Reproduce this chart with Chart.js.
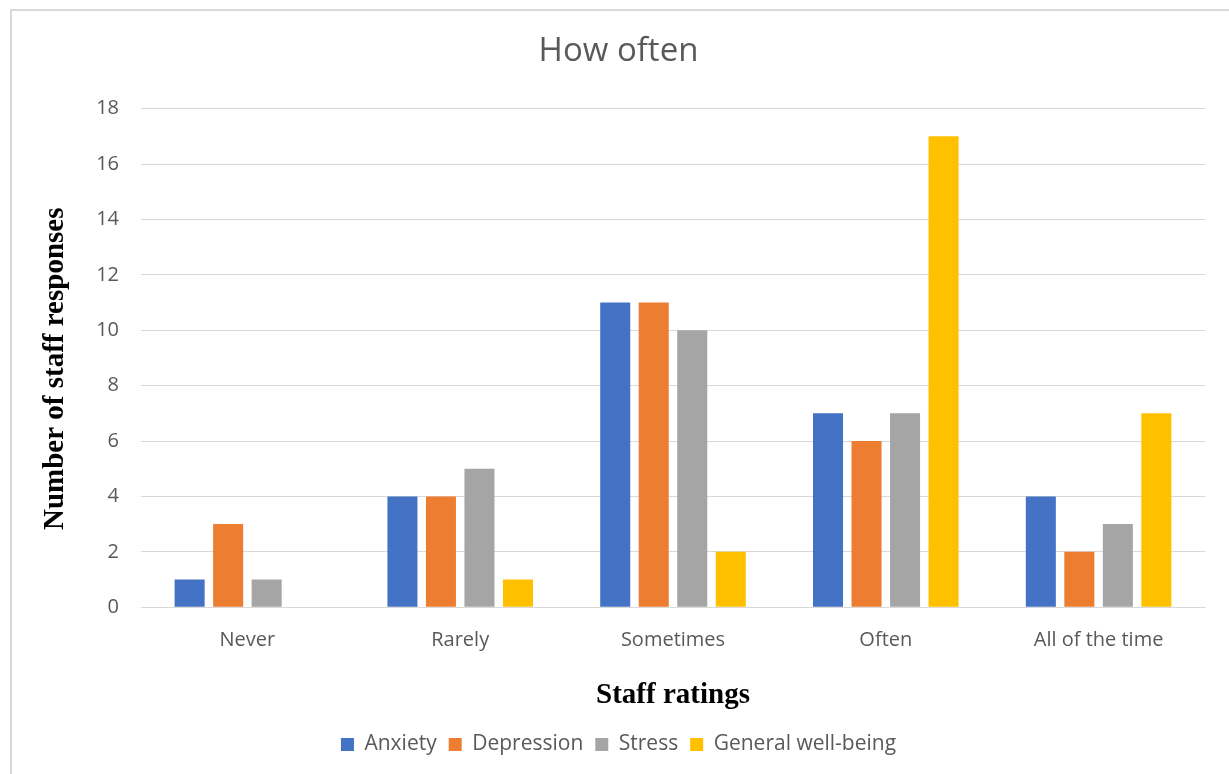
<!DOCTYPE html>
<html>
<head>
<meta charset="utf-8">
<title>How often</title>
<script src="https://cdn.jsdelivr.net/npm/chart.js"></script>
<style>
  html, body { margin: 0; padding: 0; background: #fff; }
  #frame { position: absolute; left: 10px; top: 9px; width: 1219px; height: 765px; border: 2px solid #d9d9d9; border-right: none; border-bottom: none; box-sizing: border-box; }
  #chart { display: block; }
</style>
</head>
<body>
<div id="frame">
  <canvas id="chart" width="1217" height="763"></canvas>
</div>
<script>
// chart data
const categories = ['Never', 'Rarely', 'Sometimes', 'Often', 'All of the time'];
const anxiety = [1, 4, 11, 7, 4];
const depression = [3, 4, 11, 6, 2];
const stress = [1, 5, 10, 7, 3];
const wellBeing = [0, 1, 2, 17, 7];
const yTicks = [0, 2, 4, 6, 8, 10, 12, 14, 16, 18];

const grey = '#595959';
const sans = "'Open Sans', 'Noto Sans', sans-serif";
const serif = "'Liberation Serif', 'DejaVu Serif', serif";

function series(label, data, color) {
  return {
    label: label,
    data: data,
    backgroundColor: color,
    borderWidth: 0,
    categoryPercentage: 0.724,
    barPercentage: 0.78
  };
}

const ctx = document.getElementById('chart').getContext('2d');
const chart = new Chart(ctx, {
  type: 'bar',
  data: {
    labels: categories,
    datasets: [
      series('Anxiety', anxiety, '#4472C4'),
      series('Depression', depression, '#ED7D31'),
      series('Stress', stress, '#A5A5A5'),
      series('General well-being', wellBeing, '#FFC000')
    ]
  },
  options: {
    responsive: false,
    animation: false,
    layout: { padding: { left: 20, right: 24, top: 0, bottom: 9 } },
    plugins: {
      title: {
        display: true,
        text: 'How often',
        color: grey,
        font: { family: sans, size: 33, weight: 'normal' },
        padding: { top: 21, bottom: 37 }
      },
      legend: {
        position: 'bottom',
        labels: {
          color: grey,
          font: { family: sans, size: 21 },
          boxWidth: 13,
          boxHeight: 13,
          padding: 12
        }
      },
      tooltip: { enabled: false }
    },
    scales: {
      x: {
        grid: { display: false },
        border: { display: true, color: '#d9d9d9', width: 1 },
        ticks: { color: grey, font: { family: sans, size: 20 }, padding: 13 },
        title: {
          display: true,
          text: 'Staff ratings',
          color: '#000',
          font: { family: serif, size: 29, weight: 'bold' },
          padding: { top: 13, bottom: 9 }
        }
      },
      y: {
        min: 0,
        max: 18,
        afterBuildTicks: function (scale) {
          scale.ticks = yTicks.map(v => ({ value: v }));
        },
        afterFit: function (scale) {
          scale.width = 109;
        },
        grid: { color: '#d9d9d9', lineWidth: 1, drawTicks: false },
        border: { display: false },
        ticks: { color: grey, font: { family: sans, size: 20 }, padding: 22 },
        title: {
          display: true,
          // trailing spaces nudge the centred title down a little, like the original
          text: 'Number of staff responses   ',
          color: '#000',
          font: { family: serif, size: 29, weight: 'bold' },
          padding: { top: 6, bottom: 0 }
        }
      }
    }
  }
});
</script>
</body>
</html>
